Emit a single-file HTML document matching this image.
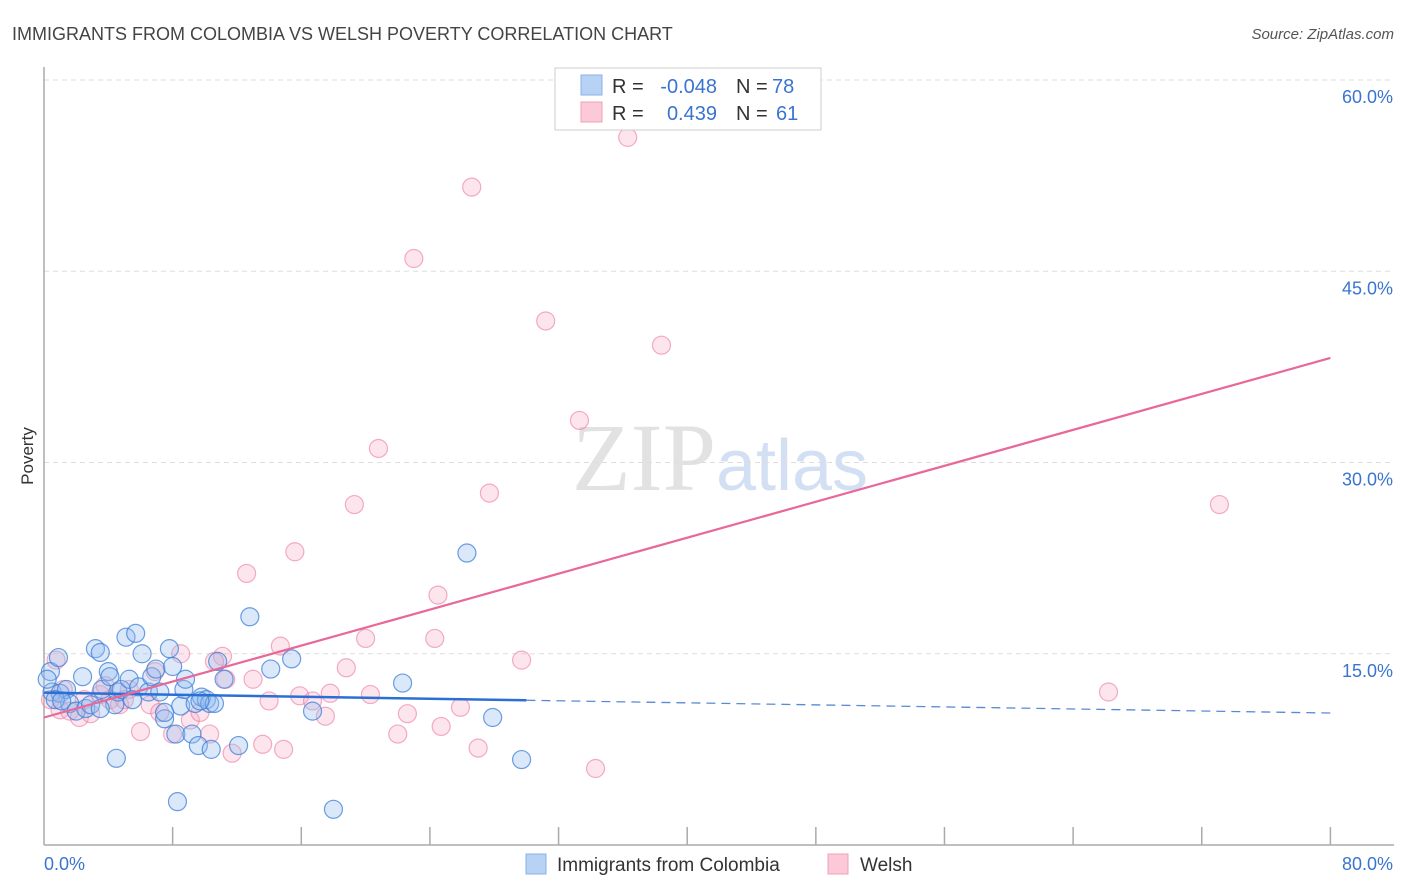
<!DOCTYPE html>
<html><head><meta charset="utf-8"><style>
body{margin:0;background:#fff;font-family:"Liberation Sans",sans-serif;}
svg{display:block}
</style></head><body>
<svg id="chart" width="1406" height="892" viewBox="0 0 1406 892" xmlns="http://www.w3.org/2000/svg" font-family="Liberation Sans, sans-serif">
<text x="12" y="40" font-size="18" fill="#444">IMMIGRANTS FROM COLOMBIA VS WELSH POVERTY CORRELATION CHART</text>
<text x="1394" y="39" font-size="15" fill="#555" font-style="italic" text-anchor="end">Source: ZipAtlas.com</text>
<text x="720" y="490" font-size="96" text-anchor="middle" fill="#e2e2e2" font-family="Liberation Serif, serif">ZIP<tspan fill="#d3e0f4" font-family="Liberation Sans, sans-serif" font-size="72">atlas</tspan></text>
<g id="grid"></g>
<g id="axes"></g>
<g id="pts"></g>
<g id="lines"></g>
<text transform="translate(33,456) rotate(-90)" font-size="17" fill="#333" text-anchor="middle">Poverty</text>
<g font-size="20">
<rect x="555" y="68" width="266" height="62" fill="#fff" stroke="#ccc"/>
<rect x="581" y="75" width="21" height="20" fill="#b8d2f5" stroke="#8ab0e8"/>
<rect x="581" y="102" width="21" height="20" fill="#fbc9d8" stroke="#f0a0ba"/>
<text x="612" y="93" fill="#333">R =</text>
<text x="717" y="93" fill="#3a74d0" text-anchor="end">-0.048</text>
<text x="736" y="93" fill="#333">N =</text>
<text x="772" y="93" fill="#3a74d0">78</text>
<text x="612" y="120" fill="#333">R =</text>
<text x="717" y="120" fill="#3a74d0" text-anchor="end">0.439</text>
<text x="736" y="120" fill="#333">N =</text>
<text x="776" y="120" fill="#3a74d0">61</text>
</g>
<g>
<rect x="526" y="854" width="20" height="20" fill="#b8d2f5" stroke="#8ab0e8"/>
<text x="557" y="871" font-size="19" fill="#333">Immigrants from Colombia</text>
<rect x="828" y="854" width="20" height="20" fill="#fbc9d8" stroke="#f0a0ba"/>
<text x="860" y="871" font-size="19" fill="#333">Welsh</text>
</g>
</svg>
<script>
const yTicks=[15,30,45,60];
const xTickLabels=["0.0%","80.0%"];
const blueX=[0.4,0.9,0.5,1.0,1.4,1.6,2.0,2.4,2.6,2.9,3.2,3.5,3.6,4.0,4.1,4.4,4.6,4.8,5.1,5.3,5.7,5.9,6.1,6.5,6.7,6.96,7.2,7.5,7.8,8.0,8.2,8.3,8.5,8.7,8.8,9.2,9.4,9.6,9.8,10.1,10.3,10.4,10.6,10.8,11.2,12.1,12.8,14.1,15.4,16.7,18.0,22.3,26.3,27.9,29.7,4.5,7.5,0.2,0.7,1.1,9.7,3.5,5.5];
const blueY=[13.6,14.7,12.0,11.9,12.2,11.1,10.5,13.2,10.7,11.0,15.4,15.1,12.2,13.6,13.2,11.0,12.0,12.2,16.3,13.0,16.6,12.4,15.0,12.0,13.2,13.8,12.0,9.9,15.4,14.0,8.7,3.4,10.9,12.2,13.0,8.7,11.1,7.8,11.6,11.4,11.1,7.5,11.1,14.4,13.0,7.8,17.9,13.8,14.6,10.5,2.8,12.7,22.9,10.0,6.7,6.8,10.4,13.0,11.4,11.3,11.3,10.7,11.4];
const pinkX=[36.3,26.6,23.0,31.2,38.4,33.3,20.8,27.7,19.3,73.1,15.6,12.6,24.5,20.0,24.3,14.7,8.5,11.1,29.7,18.8,13.0,66.2,11.3,15.9,17.8,20.3,14.0,16.7,25.9,22.6,17.5,24.7,22.0,6.0,8.0,10.3,13.6,14.9,11.7,27.0,34.3,0.75,0.4,1.0,1.6,2.2,2.9,3.5,4.1,4.7,5.3,6.6,7.2,9.1,9.7,6.9,3.8,10.6,5.0,2.5,1.2];
const pinkY=[55.5,51.6,46.0,41.1,39.2,33.3,31.1,27.6,26.7,26.7,23.0,21.3,19.6,16.2,16.2,15.6,15.0,14.8,14.5,13.9,13.0,12.0,13.0,11.7,11.9,11.8,11.3,11.3,10.8,10.3,10.1,9.3,8.7,8.9,8.7,8.7,7.9,7.5,7.2,7.6,6.0,14.5,11.4,10.6,10.5,10.0,10.3,11.8,11.4,11.0,12.2,11.0,10.4,9.8,10.4,13.6,12.5,14.4,11.4,11.4,12.2];
const blueFit=[-0.048,11.95,10.35,30];
const pinkFit=[0.439,10.0,38.2];
const NS="http://www.w3.org/2000/svg";
const sx=v=>44+v*16.08, sy=v=>845-v*12.75;
function mk(tag,attrs,parent){const e=document.createElementNS(NS,tag);for(const k in attrs)e.setAttribute(k,attrs[k]);document.getElementById(parent).appendChild(e);return e;}
yTicks.forEach(t=>{
 const l=mk('line',{x1:44,x2:1394,y1:sy(t),y2:sy(t),stroke:'#ddd','stroke-dasharray':'5,4'},'grid');
 
 
 const tx=mk('text',{x:1393,y:sy(t)+23,'font-size':18,fill:'#3a74d0','text-anchor':'end'},'grid');tx.textContent=t.toFixed(1)+'%';
 
 
});
let a=mk('line',{x1:44,x2:44,y1:67,y2:845,stroke:'#aaa','stroke-width':1.5},'axes');


a=mk('line',{x1:44,x2:1394,y1:845,y2:845,stroke:'#aaa','stroke-width':1.5},'axes');


for(let i=1;i<=10;i++){const t=mk('line',{x1:sx(i*8),x2:sx(i*8),y1:827,y2:845,stroke:'#aaa','stroke-width':1.5},'axes');
 
 }
[[0,'start',44],[80,'end',1393]].forEach((d,i)=>{const t=mk('text',{x:d[2],y:870,'font-size':18,fill:'#3a74d0','text-anchor':d[1]},'axes');t.textContent=xTickLabels[i];
 
 });
pinkX.forEach((x,i)=>{const c=mk('circle',{cx:sx(x),cy:sy(pinkY[i]),r:9,fill:'rgba(248,170,195,0.3)',stroke:'rgba(235,120,160,0.6)','stroke-width':1.2},'pts');
 
 });
blueX.forEach((x,i)=>{const c=mk('circle',{cx:sx(x),cy:sy(blueY[i]),r:9,fill:'rgba(150,190,240,0.35)',stroke:'rgba(60,125,215,0.75)','stroke-width':1.2},'pts');
 
 });
const bY=x=>blueFit[1]+(blueFit[2]-blueFit[1])*x/80;
let l=mk('line',{x1:sx(0),y1:sy(bY(0)),x2:sx(blueFit[3]),y2:sy(bY(blueFit[3])),stroke:'#2a6fd6','stroke-width':2.5},'lines');


l=mk('line',{x1:sx(blueFit[3]),y1:sy(bY(blueFit[3])),x2:sx(80),y2:sy(bY(80)),stroke:'#5a8ad6','stroke-width':1.3,'stroke-dasharray':'9,6'},'lines');


l=mk('line',{x1:sx(0),y1:sy(pinkFit[1]),x2:sx(80),y2:sy(pinkFit[2]),stroke:'#e8689a','stroke-width':2.2},'lines');


</script>
</body></html>
